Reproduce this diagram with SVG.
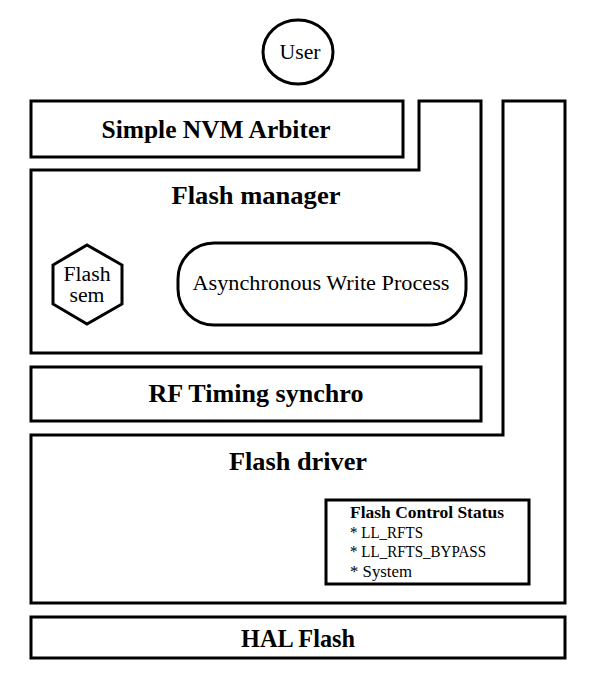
<svg xmlns="http://www.w3.org/2000/svg" width="600" height="678" viewBox="0 0 600 678">
<style>
.box{fill:#fff;stroke:#000;stroke-width:3}
.t{font-family:"Liberation Serif","DejaVu Serif",serif;fill:#000;text-anchor:middle;dominant-baseline:central}
.b{font-weight:bold;font-size:25px}
.n{font-size:20px}
.s{font-family:"Liberation Serif","DejaVu Serif",serif;font-size:17px;fill:#000}
</style>
<rect width="600" height="678" fill="#fff"/>
<g id="connectors"/>
<g id="user"><ellipse class="box" cx="298" cy="52" rx="35" ry="32"/><text class="t n" x="300" y="52" font-size="23" textLength="41" lengthAdjust="spacingAndGlyphs">User</text></g>
<g id="flash-driver"><path class="box" d="M31,435 H503 V101 H565 V603 H31 Z"/><text class="t b" x="298" y="461" textLength="138" lengthAdjust="spacingAndGlyphs">Flash driver</text></g>
<g id="flash-manager"><path class="box" d="M31,170 H419 V101 H481 V353 H31 Z"/><text class="t b" x="256" y="195" textLength="169" lengthAdjust="spacingAndGlyphs">Flash manager</text></g>
<g id="simple-nvm-arbiter"><rect class="box" x="31" y="101" width="372" height="56"/><text class="t b" x="216" y="129" textLength="229" lengthAdjust="spacingAndGlyphs">Simple NVM Arbiter</text></g>
<g id="flash-sem"><polygon class="box" stroke-width="2.5" points="87,245 122,265 122,304 87,324 53,304 53,265"/><text class="t n" x="87" y="274" textLength="47" lengthAdjust="spacingAndGlyphs">Flash</text><text class="t n" x="87" y="295" textLength="35" lengthAdjust="spacingAndGlyphs">sem</text></g>
<g id="async-write"><rect class="box" stroke-width="2.5" x="178" y="243" width="288" height="82" rx="36"/><text class="t n" x="321" y="283" textLength="257" lengthAdjust="spacingAndGlyphs">Asynchronous Write Process</text></g>
<g id="rf-timing"><rect class="box" x="31" y="367" width="450" height="54"/><text class="t b" x="256" y="393" textLength="215" lengthAdjust="spacingAndGlyphs">RF Timing synchro</text></g>
<g id="flash-control-status"><rect class="box" stroke-width="3.5" x="326" y="500" width="203" height="84"/>
<text class="s" x="350" y="518" font-weight="bold" textLength="154" lengthAdjust="spacingAndGlyphs">Flash Control Status</text>
<text class="s" x="350" y="538" textLength="73" lengthAdjust="spacingAndGlyphs">* LL_RFTS</text>
<text class="s" x="350" y="557" textLength="136" lengthAdjust="spacingAndGlyphs">* LL_RFTS_BYPASS</text>
<text class="s" x="350" y="577" textLength="62" lengthAdjust="spacingAndGlyphs">* System</text></g>
<g id="hal-flash"><rect class="box" x="31" y="617" width="534" height="41"/><text class="t b" x="298" y="638" textLength="114" lengthAdjust="spacingAndGlyphs">HAL Flash</text></g>
</svg>
